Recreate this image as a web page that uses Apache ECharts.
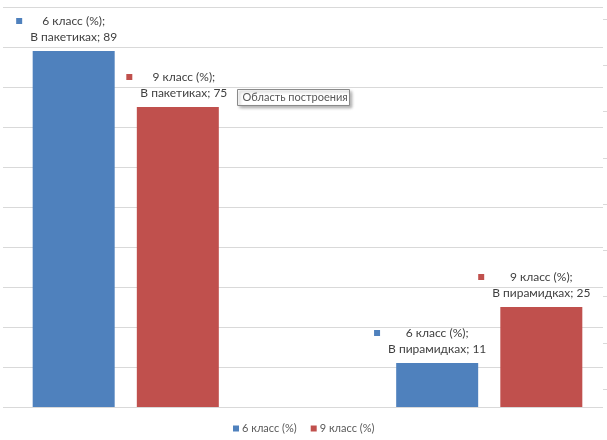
<!DOCTYPE html>
<html>
<head>
<meta charset="utf-8">
<script src="https://cdn.jsdelivr.net/npm/echarts@6/dist/echarts.min.js"></script>
<style>
  html, body { margin: 0; padding: 0; background: #fff; }
  #chart { width: 607px; height: 440px; }
</style>
</head>
<body>
<div id="chart"></div>
<script>
// Survey results: share of pupils (%) by tea packaging type
const categories = ['В пакетиках', 'В пирамидках'];
const seriesNames = ['6 класс (%)', '9 класс (%)'];
const grade6 = [89, 11];
const grade9 = [75, 25];
const colors = ['#4f81bd', '#c0504d'];

const FONT = 'Lato, "Open Sans", sans-serif';

function makeLabel(color) {
  return {
    show: true,
    position: 'top',
    distance: 6,
    align: 'center',
    formatter: function (p) {
      return '{k|}{t|' + p.seriesName + ';}{r|}\n{s|}{t|' + p.name + '; ' + p.value + '}{s|}';
    },
    rich: {
      k: { width: 6, height: 6, backgroundColor: color, align: 'left', lineHeight: 16 },
      r: { width: 6, height: 6, align: 'right', lineHeight: 16 },
      s: { width: 14, lineHeight: 16 },
      t: { fontFamily: FONT, fontSize: 12, color: '#404040', lineHeight: 16, align: 'center' }
    }
  };
}

const chart = echarts.init(document.getElementById('chart'), null, { renderer: 'canvas' });

chart.setOption({
  animation: false,
  backgroundColor: '#ffffff',
  textStyle: { fontFamily: FONT },
  grid: [
    // bars (plot area wider than the visible frame)
    { left: -56, width: 727, top: 7, height: 400, outerBoundsMode: 'none', containLabel: false },
    // horizontal gridlines
    { left: 3, width: 600, top: 7, height: 400, outerBoundsMode: 'none', containLabel: false },
    // secondary tick marks on the right edge
    { left: 593, width: 10, top: 19, height: 370, outerBoundsMode: 'none', containLabel: false }
  ],
  xAxis: [
    { type: 'category', gridIndex: 0, data: categories, show: false, boundaryGap: true },
    { type: 'value', gridIndex: 1, show: false },
    { type: 'value', gridIndex: 2, show: false, min: 0, max: 1 }
  ],
  yAxis: [
    { type: 'value', gridIndex: 0, min: 0, max: 100, interval: 10, show: false },
    {
      type: 'value', gridIndex: 1, min: 0, max: 100, interval: 10,
      axisLine: { show: false }, axisTick: { show: false }, axisLabel: { show: false },
      splitLine: { show: true, lineStyle: { color: '#d9d9d9', width: 1 } }
    },
    {
      type: 'value', gridIndex: 2, position: 'right', min: 0, max: 8, interval: 1,
      axisLine: { show: false, onZero: false }, axisLabel: { show: false }, splitLine: { show: false },
      axisTick: { show: true, length: 4, inside: false, lineStyle: { color: '#d9d9d9' } }
    }
  ],
  legend: {
    left: 233,
    top: 423,
    padding: 0,
    itemWidth: 6,
    itemHeight: 6,
    itemGap: 14,
    icon: 'rect',
    data: seriesNames,
    textStyle: { fontFamily: FONT, fontSize: 11, color: '#595959', padding: [0, 0, 0, -2] }
  },
  series: [
    {
      name: seriesNames[0], type: 'bar', xAxisIndex: 0, yAxisIndex: 0,
      data: grade6, barWidth: 82, barGap: '27%',
      itemStyle: { color: colors[0] },
      label: makeLabel(colors[0])
    },
    {
      name: seriesNames[1], type: 'bar', xAxisIndex: 0, yAxisIndex: 0,
      data: grade9, barWidth: 82, barGap: '27%',
      itemStyle: { color: colors[1] },
      label: makeLabel(colors[1]),
      // first label of this series sits a little to the right of its bar
      labelLayout: function (params) {
        return params.dataIndex === 0 ? { dx: 6 } : {};
      }
    }
  ],
  graphic: [
    {
      type: 'group',
      left: 237,
      top: 89,
      children: [
        {
          type: 'rect',
          shape: { x: 0, y: 0, width: 112, height: 16 },
          style: {
            fill: '#ffffff', stroke: '#8a8a8a', lineWidth: 1,
            shadowBlur: 3, shadowOffsetX: 2, shadowOffsetY: 2, shadowColor: 'rgba(0,0,0,0.3)'
          }
        },
        {
          type: 'text',
          style: {
            x: 5, y: 8, text: 'Область построения', fill: '#575757',
            font: '11px ' + FONT, verticalAlign: 'middle'
          }
        }
      ]
    }
  ]
});
</script>
</body>
</html>
